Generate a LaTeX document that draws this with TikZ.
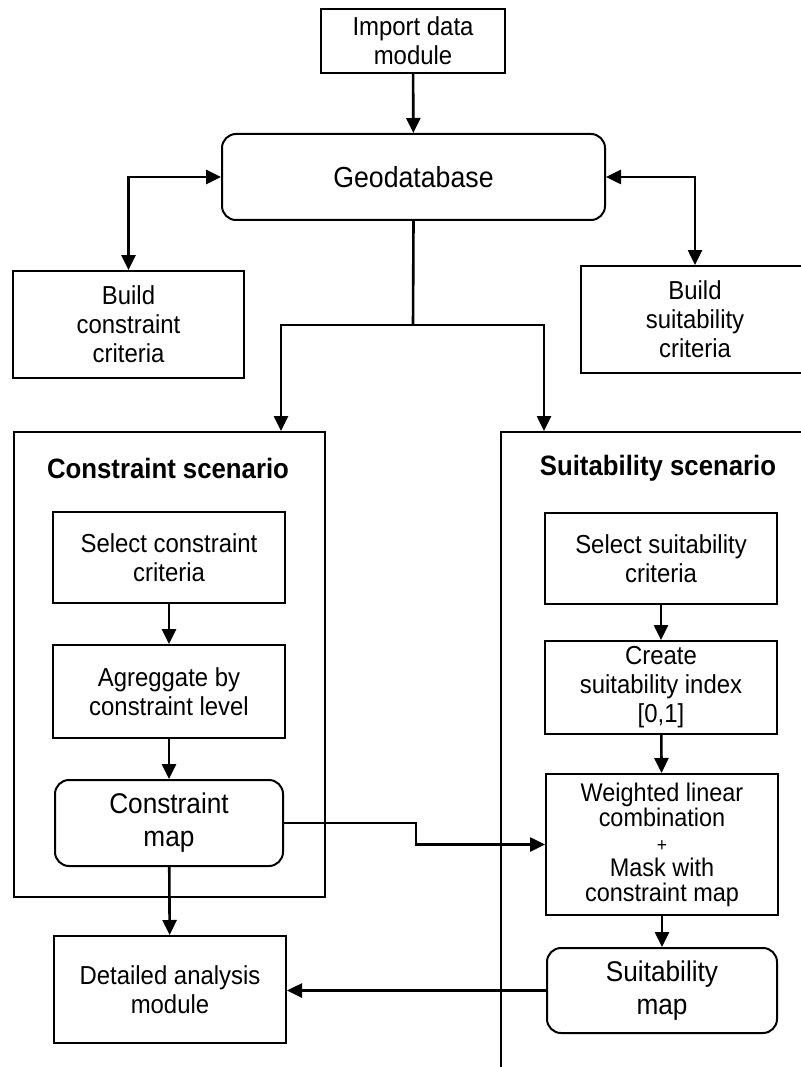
\documentclass[tikz,border=0pt]{standalone}
\usepackage{fontspec}
\setmainfont[FakeStretch=0.92]{Liberation Sans}
\usetikzlibrary{arrows.meta,positioning,calc}

\begin{document}
\begin{tikzpicture}[x=1pt,y=-1pt,
    box/.style={draw,line width=2pt,align=center,inner sep=0pt,font=\fontsize{26}{29}\selectfont},
    rbox/.style={box,rounded corners=14pt,font=\fontsize{28.5}{33}\selectfont},
    arr/.style={line width=2.6pt,-{Triangle[length=15pt,width=14pt]}},
    darr/.style={line width=2.6pt,{Triangle[length=15pt,width=14pt]}-{Triangle[length=15pt,width=14pt]}},
    ttl/.style={font=\fontsize{28}{32}\bfseries\selectfont}]
        \useasboundingbox (0,0) rectangle (800,1067);

        % top part
        \node[box,minimum width=184pt,minimum height=64pt] (imp) at (413,41) {Import data\\module};
        \node[rbox,minimum width=383pt,minimum height=86pt,font=\fontsize{29}{33}\selectfont] (geo) at (413.5,177) {Geodatabase};
        \node[box,minimum width=231pt,minimum height=107pt] (bcc) at (128.5,324.5) {Build\\constraint\\criteria};
        \node[box,minimum width=228pt,minimum height=107pt] (bsc) at (695,319.5) {Build\\suitability\\criteria};

        % scenario frames
        \node[box,minimum width=311pt,minimum height=465pt,anchor=north west] (csc) at (13,431) {};
        \node[box,minimum width=320pt,minimum height=680pt,anchor=north west] (ssc) at (500,431) {};
        \node[ttl] (ctl) at (168,468) {Constraint scenario};
        \node[ttl] (stl) at (658,468) {Suitability scenario};

        % constraint side
        \node[box,minimum width=232pt,minimum height=91pt] (selc) at (169,557.5) {Select constraint\\criteria};
        \node[box,minimum width=232pt,minimum height=93pt] (aggc) at (169,691.5) {Agreggate by\\constraint level};
        \node[rbox,minimum width=228pt,minimum height=86pt] (cmap) at (169,823) {Constraint\\map};
        \node[box,minimum width=232pt,minimum height=107pt] (det) at (170,989.5) {Detailed analysis\\module};

        % suitability side
        \node[box,minimum width=232pt,minimum height=91pt] (sels) at (661,558.5) {Select suitability\\criteria};
        \node[box,minimum width=232pt,minimum height=93pt] (sidx) at (661,687.5) {Create\\suitability index\\{[}0,1{]}};
        \node[box,minimum width=232pt,minimum height=141pt,font=\fontsize{25.5}{25}\selectfont] (wlc) at (662,844.5)
            {Weighted linear\\combination\\{\fontsize{19}{25}\selectfont +}\\Mask with\\constraint map};
        \node[rbox,minimum width=230pt,minimum height=85pt] (smap) at (662,990.5) {Suitability\\map};

        \coordinate (split) at (413,325);
        \coordinate (cin) at (281,431);
        \coordinate (sin) at (544,431);

        % connectors
        \draw[arr] (imp) -- (geo);
        \draw[darr] (geo.west) -| (bcc.north);
        \draw[darr] (geo.east) -| (bsc.north);
        \draw[line width=2.6pt] (geo.south) -- (split);
        \draw[arr] (split) -| (cin);
        \draw[arr] (split) -| (sin);
        \draw[arr] (selc) -- (aggc);
        \draw[arr] (aggc) -- (cmap);
        \draw[arr] (cmap) -- (det);
        \draw[arr] (sels) -- (sidx);
        \draw[arr] (sidx) -- (wlc);
        \draw[arr] (wlc) -- (smap);
        \draw[arr] (cmap.east) -- ++(132,0) |- (wlc.west);
        \draw[arr] (smap.west) -- (smap.west -| det.east);
\end{tikzpicture}
\end{document}
